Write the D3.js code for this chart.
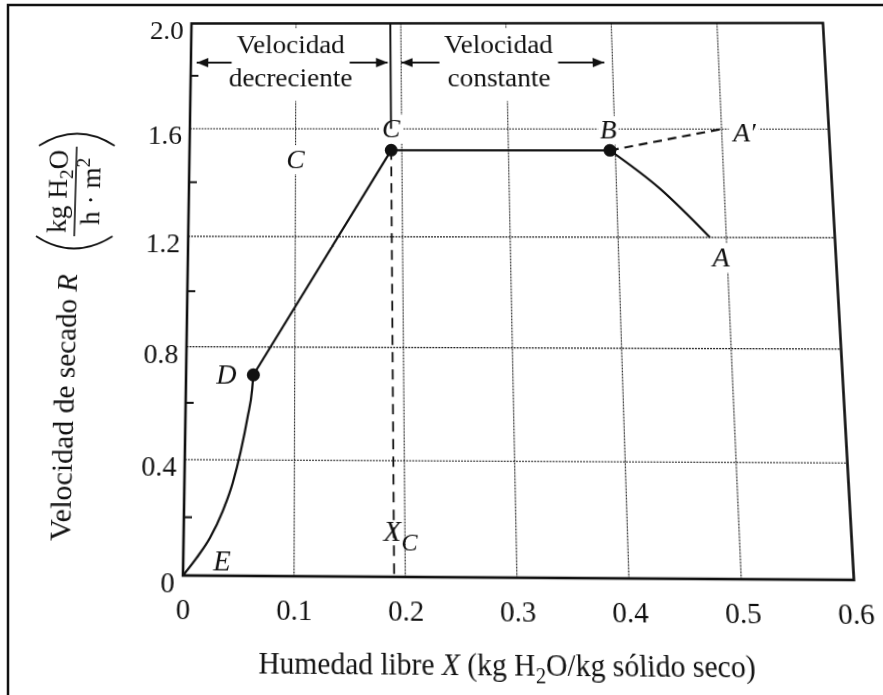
<!DOCTYPE html>
<html>
<head>
<meta charset="utf-8">
<script src="https://cdn.jsdelivr.net/npm/d3@7"></script>
<style>
  html, body { margin: 0; padding: 0; background: #fff; }
  #page { position: relative; width: 883px; height: 695px; overflow: hidden; background: #fff; }
  #page svg { position: absolute; left: 0; top: 0; }
</style>
</head>
<body>
<div id="page"></div>
<script>
// Axis ticks
const xTicks = [0, 0.1, 0.2, 0.3, 0.4, 0.5, 0.6];
const yTicks = [0, 0.4, 0.8, 1.2, 1.6, 2.0];
const yMinorTicks = [0.2, 0.6, 1.0, 1.4, 1.8];
const xGrid = [0.1, 0.2, 0.3, 0.4, 0.5];
const yGrid = [0.4, 0.8, 1.2, 1.6];

// Drying-rate curve, free moisture X vs rate R
const segED = [[0, 0], [0.012, 0.06], [0.024, 0.13], [0.035, 0.22], [0.044, 0.32],
               [0.051, 0.43], [0.057, 0.55], [0.061, 0.65], [0.062, 0.70]];
const segDC = [[0.062, 0.70], [0.19, 1.52]];
const segCB = [[0.19, 1.52], [0.395, 1.52]];
const segBA = [[0.395, 1.52], [0.44, 1.38], [0.485, 1.20]];
const segBAprime = [[0.395, 1.52], [0.50, 1.60]];
const keyPoints = [[0.062, 0.70], [0.19, 1.52], [0.395, 1.52]];
const criticalX = 0.19;

// Region headers: [text lines, from X, to X]
const regionLines = [["Velocidad", "decreciente"], ["Velocidad", "constante"]];
const regionSpans = [[0, 0.19], [0.19, 0.395]];

// Point letters: [letter, X, R]
const pointLetters = [["C", 0.19, 1.6], ["C", 0.1, 1.49], ["B", 0.395, 1.6],
                      ["A\u2032", 0.5, 1.6], ["A", 0.485, 1.2], ["D", 0.062, 0.70], ["E", 0, 0]];

const W = 883, H = 695;
const SERIF = "'Liberation Serif', 'DejaVu Serif', serif";
const INK = "#111";

const x = d3.scaleLinear().domain([0, 0.6]).range([187, 838.5]);
const y = d3.scaleLinear().domain([0, 2.0]).range([577, 23.5]);

// plain page border (left and top)
const base = d3.select("#page").append("svg").attr("width", W).attr("height", H);
base.append("path").attr("d", "M8,700 L8,5 L890,5").attr("fill", "none")
  .attr("stroke", INK).attr("stroke-width", 2.5);

// chart layer, with a slight keystone projection of the printed page
const svg = d3.select("#page").append("svg").attr("width", W).attr("height", H)
  .style("overflow", "visible");

function homography(src, dst) {
  const A = [], B = [];
  for (let i = 0; i < 4; i++) {
    const [sx, sy] = src[i], [u, v] = dst[i];
    A.push([sx, sy, 1, 0, 0, 0, -sx * u, -sy * u]); B.push(u);
    A.push([0, 0, 0, sx, sy, 1, -sx * v, -sy * v]); B.push(v);
  }
  const n = 8;
  for (let c = 0; c < n; c++) {
    let p = c;
    for (let r = c + 1; r < n; r++) if (Math.abs(A[r][c]) > Math.abs(A[p][c])) p = r;
    [A[c], A[p]] = [A[p], A[c]]; [B[c], B[p]] = [B[p], B[c]];
    for (let r = 0; r < n; r++) {
      if (r === c) continue;
      const f = A[r][c] / A[c][c];
      for (let k = c; k < n; k++) A[r][k] -= f * A[c][k];
      B[r] -= f * B[c];
    }
  }
  return B.map((b, i) => b / A[i][i]);
}
const frameSrc = [[x(0), y(2)], [x(0.6), y(2)], [x(0.6), y(0)], [x(0), y(0)]];
const frameDst = [[191.5, 23.5], [823, 23], [854, 580], [183, 575.5]];
const [ha, hb, hc, hd, he, hf, hg, hh] = homography(frameSrc, frameDst);
svg.style("transform-origin", "0 0")
   .style("transform", `matrix3d(${ha},${hd},0,${hg},${hb},${he},0,${hh},0,0,1,0,${hc},${hf},0,1)`);

const g = svg.append("g");

// grid
const grid = g.append("g").attr("stroke", "#222").attr("stroke-width", 1.1)
  .attr("stroke-dasharray", "2 1");
grid.selectAll("line.vx").data(xGrid).join("line").attr("class", "vx")
  .attr("x1", d => x(d)).attr("x2", d => x(d)).attr("y1", y(2)).attr("y2", y(0));
grid.selectAll("line.hy").data(yGrid).join("line").attr("class", "hy")
  .attr("x1", x(0)).attr("x2", x(0.6)).attr("y1", d => y(d)).attr("y2", d => y(d));

// inward minor ticks on the rate axis
g.append("g").selectAll("line").data(yMinorTicks).join("line")
  .attr("x1", x(0)).attr("x2", x(0) + 8).attr("y1", d => y(d)).attr("y2", d => y(d))
  .attr("stroke", INK).attr("stroke-width", 2);

// white knock-outs behind lettering
const knock = g.append("g");

// critical-moisture divider and X_C drop line
g.append("line").attr("x1", x(criticalX)).attr("x2", x(criticalX))
  .attr("y1", y(2)).attr("y2", y(1.6)).attr("stroke", INK).attr("stroke-width", 2);
g.append("line").attr("x1", x(criticalX)).attr("x2", x(criticalX))
  .attr("y1", y(segCB[0][1])).attr("y2", y(0)).attr("stroke", INK).attr("stroke-width", 1.8)
  .attr("stroke-dasharray", "10 7");

// curve
const lin = d3.line().x(d => x(d[0])).y(d => y(d[1]));
const smooth = d3.line().x(d => x(d[0])).y(d => y(d[1])).curve(d3.curveMonotoneX);
const curves = g.append("g").attr("fill", "none").attr("stroke", INK).attr("stroke-width", 2.2);
curves.append("path").attr("d", smooth(segED));
curves.append("path").attr("d", lin(segDC));
curves.append("path").attr("d", lin(segCB));
curves.append("path").attr("d", smooth(segBA));
curves.append("path").attr("d", lin(segBAprime)).attr("stroke-dasharray", "9 6");

g.append("g").selectAll("circle").data(keyPoints).join("circle")
  .attr("cx", d => x(d[0])).attr("cy", d => y(d[1])).attr("r", 6.5).attr("fill", INK);

// frame
g.append("rect").attr("x", x(0)).attr("y", y(2)).attr("width", x(0.6) - x(0))
  .attr("height", y(0) - y(2)).attr("fill", "none").attr("stroke", INK).attr("stroke-width", 2.6);

// axes
const fmt = d => d === 0 ? "0" : d3.format(".1f")(d);
const xAxisG = g.append("g").attr("transform", `translate(0,${y(0)})`)
  .call(d3.axisBottom(x).tickValues(xTicks).tickSize(0).tickFormat(fmt));
xAxisG.select(".domain").remove();
xAxisG.selectAll("text").attr("font-family", SERIF).attr("font-size", 28).attr("fill", INK)
  .attr("y", 0).attr("dy", 41);
const yAxisG = g.append("g").attr("transform", `translate(${x(0)},0)`)
  .call(d3.axisLeft(y).tickValues(yTicks).tickSize(0).tickPadding(8).tickFormat(fmt));
yAxisG.select(".domain").remove();
yAxisG.selectAll("text").attr("font-family", SERIF).attr("font-size", 28).attr("fill", INK)
  .attr("dy", 15.5);

// region headers with arrows
const defs = svg.append("defs");
defs.append("marker").attr("id", "head").attr("viewBox", "0 0 12 10").attr("refX", 12).attr("refY", 5)
  .attr("markerWidth", 12).attr("markerHeight", 10).attr("markerUnits", "userSpaceOnUse")
  .attr("orient", "auto").append("path").attr("d", "M0,0 L12,5 L0,10 Z").attr("fill", INK);

const labels = g.append("g").attr("font-family", SERIF).attr("fill", INK);
regionLines.forEach((lines, i) => {
  const [a, b] = regionSpans[i];
  const cx = x((a + b) / 2);
  const t = labels.append("text").attr("text-anchor", "middle").attr("font-size", 28);
  t.append("tspan").attr("x", cx).attr("y", 55).text(lines[0]);
  t.append("tspan").attr("x", cx).attr("y", 90).text(lines[1]);
  const bb = t.node().getBBox();
  knock.append("rect").attr("x", bb.x - 4).attr("y", bb.y - 1).attr("width", bb.width + 8)
    .attr("height", bb.height + 10).attr("fill", "#fff");
  const top = t.select("tspan").node().getBBox();
  const ay = 65;
  const leftTip = x(a) + (a === 0 ? 6 : (i === 1 ? 11 : 3));
  labels.append("line").attr("x1", top.x - 5).attr("x2", leftTip).attr("y1", ay).attr("y2", ay)
    .attr("stroke", INK).attr("stroke-width", 2).attr("marker-end", "url(#head)");
  labels.append("line").attr("x1", top.x + top.width + 5).attr("x2", x(b) - 3).attr("y1", ay).attr("y2", ay)
    .attr("stroke", INK).attr("stroke-width", 2).attr("marker-end", "url(#head)");
});

// point letters
const letterOffset = {
  0: [0, 9], 1: [0, 10], 2: [-1, 10], 3: [23, 13], 4: [10, 29], 5: [-27, 9], 6: [38, -5]
};
pointLetters.forEach((p, i) => {
  const [dx, dy] = letterOffset[i];
  const t = labels.append("text").attr("x", x(p[1]) + dx).attr("y", y(p[2]) + dy)
    .attr("text-anchor", "middle").attr("font-size", 28).attr("font-style", "italic").text(p[0]);
  const bb = t.node().getBBox();
  knock.append("rect").attr("x", bb.x - 2).attr("y", bb.y + 2).attr("width", bb.width + 4)
    .attr("height", bb.height - 2).attr("fill", "#fff");
});

// X_C marker on the drop line
const xc = labels.append("text").attr("x", x(criticalX) - 10).attr("y", 543)
  .attr("text-anchor", "start").attr("font-size", 28).attr("font-style", "italic");
xc.append("tspan").text("X");
xc.append("tspan").attr("font-size", 24).attr("dy", 9).text("C");
{
  const bb = xc.node().getBBox();
  knock.append("rect").attr("x", x(criticalX) - 3).attr("y", bb.y + 2).attr("width", 6)
    .attr("height", bb.height + 2).attr("fill", "#fff");
}

// axis titles
const xt = labels.append("text").attr("x", x(0.3) - 12).attr("y", 668).attr("text-anchor", "middle")
  .attr("font-size", 28.5);
xt.append("tspan").text("Humedad libre ");
xt.append("tspan").attr("font-style", "italic").text("X");
xt.append("tspan").text(" (kg H");
xt.append("tspan").attr("font-size", 20).attr("dy", 7).text("2");
xt.append("tspan").attr("dy", -7).text("O/kg sólido seco)");

const yt = labels.append("g").attr("transform", "translate(75,0) rotate(-90)");
const ytMain = yt.append("text").attr("x", -545).attr("y", 0).attr("font-size", 29);
ytMain.append("tspan").text("Velocidad de secado ");
ytMain.append("tspan").attr("font-style", "italic").text("R");
const num = yt.append("text").attr("x", -199).attr("y", -13).attr("text-anchor", "middle").attr("font-size", 28);
num.append("tspan").text("kg H");
num.append("tspan").attr("font-size", 20).attr("dy", 6).text("2");
num.append("tspan").attr("dy", -6).text("O");
const den = yt.append("text").attr("x", -199).attr("y", 21).attr("text-anchor", "middle").attr("font-size", 28);
den.append("tspan").text("h \u00b7 m");
den.append("tspan").attr("font-size", 20).attr("dy", -11).text("2");
yt.append("line").attr("x1", -245).attr("x2", -153).attr("y1", -4).attr("y2", -4)
  .attr("stroke", INK).attr("stroke-width", 1.6);
yt.append("path").attr("d", "M-245,-43 Q-270,-4 -245,35").attr("fill", "none")
  .attr("stroke", INK).attr("stroke-width", 1.8);
yt.append("path").attr("d", "M-152,-43 Q-127,-4 -152,35").attr("fill", "none")
  .attr("stroke", INK).attr("stroke-width", 1.8);
</script>
</body>
</html>
